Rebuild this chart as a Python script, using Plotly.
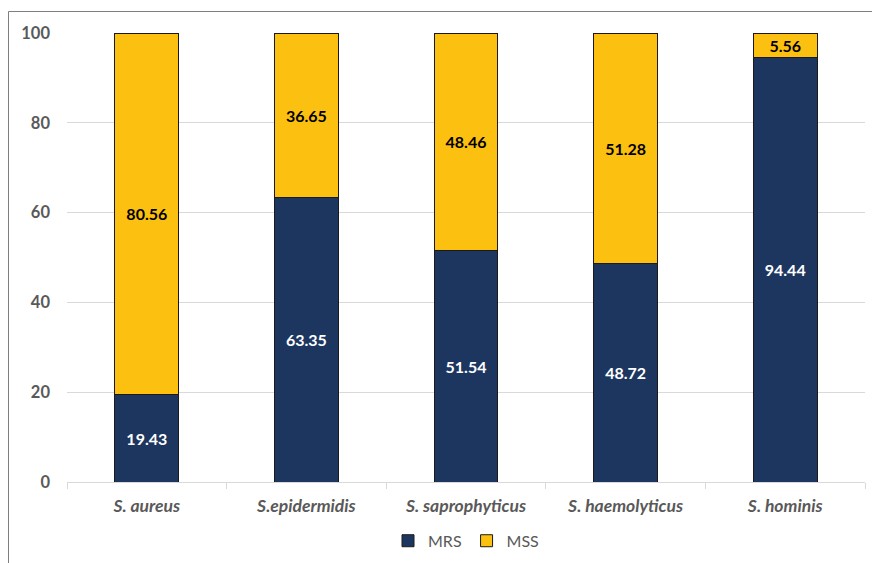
import plotly.graph_objects as go

# Staphylococcus species and the share (%) of each resistance profile
species = ["S. aureus", "S.epidermidis", "S. saprophyticus", "S. haemolyticus", "S. hominis"]
mrs = [19.43, 63.35, 51.54, 48.72, 94.44]
mss = [80.56, 36.65, 48.46, 51.28, 5.56]
y_ticks = [0, 20, 40, 60, 80, 100]

NAVY = "#1d3660"
GOLD = "#fcc010"
GREY = "#595959"
FONT = "Lato"

fig = go.Figure()
fig.add_trace(go.Bar(
    name="MRS", x=species, y=mrs,
    text=[f"{v:.2f}" for v in mrs], textposition="inside",
    insidetextanchor="middle", textangle=0, constraintext="none",
    textfont=dict(color="white", size=16, family=FONT, weight="bold"),
    marker=dict(color=NAVY, line=dict(color="#1a1a1a", width=1)),
))
fig.add_trace(go.Bar(
    name="MSS", x=species, y=mss,
    text=[f"{v:.2f}" for v in mss], textposition="inside",
    insidetextanchor="middle", textangle=0, constraintext="none",
    textfont=dict(color="black", size=16, family=FONT, weight="bold"),
    marker=dict(color=GOLD, line=dict(color="#1a1a1a", width=1)),
))

fig.update_layout(
    barmode="stack",
    bargap=0.6,
    width=872, height=563,
    margin=dict(l=67, r=7, t=33, b=81, autoexpand=False),
    paper_bgcolor="white", plot_bgcolor="white",
    font=dict(family=FONT, color=GREY, size=13),
    showlegend=True,
    legend=dict(orientation="h", x=0.5, xanchor="center", y=-0.131, yanchor="middle",
                font=dict(size=16, color=GREY, family=FONT), itemwidth=30,
                traceorder="normal"),
    xaxis=dict(
        showgrid=False, showline=True, linecolor="#d9d9d9", linewidth=1,
        ticks="outside", tickson="boundaries", ticklen=6, tickcolor="#d9d9d9",
        tickfont=dict(size=17.5, color=GREY, family=FONT, weight="bold", style="italic"),
        ticklabelstandoff=8,
    ),
    yaxis=dict(
        range=[0, 100], tickvals=y_ticks, showgrid=True, gridcolor="#d9d9d9",
        zeroline=False, showline=False, ticks="",
        tickfont=dict(size=16.5, color=GREY, family=FONT, weight="bold"),
        ticklabelstandoff=16,
    ),
    shapes=[dict(type="rect", xref="paper", yref="paper",
                 x0=(8.5 - 67) / 798, x1=(890 - 67) / 798,
                 y0=(482 - 600) / 449, y1=(482 - 11.5) / 449,
                 line=dict(color="#7f7f7f", width=1), layer="below")],
)

fig.write_html("out.html")
